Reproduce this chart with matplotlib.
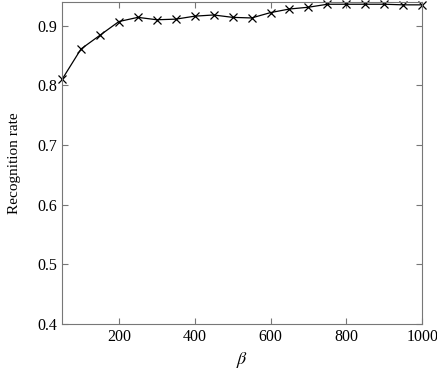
import matplotlib
matplotlib.use("Agg")
import matplotlib.pyplot as plt

beta = [50, 100, 150, 200, 250, 300, 350, 400, 450, 500, 550, 600, 650, 700, 750, 800, 850, 900, 950, 1000]
rate = [0.810, 0.861, 0.884, 0.907, 0.914, 0.910, 0.911, 0.916, 0.918, 0.914, 0.913, 0.922, 0.928, 0.931, 0.936, 0.936, 0.936, 0.936, 0.935, 0.935]
xticks = [200, 400, 600, 800, 1000]
yticks = [0.4, 0.5, 0.6, 0.7, 0.8, 0.9]

plt.rcParams['font.family'] = ['Liberation Serif', 'DejaVu Serif']
plt.rcParams['mathtext.fontset'] = 'stix'

fig = plt.figure(figsize=(4.37, 3.71), dpi=100)
ax = fig.add_axes([0.142, 0.127, 0.824, 0.868])
ax.plot(beta, rate, color='black', linewidth=0.9, marker='x', markersize=5.5, markeredgewidth=0.9, clip_on=False)
ax.set_xlim(50, 1000)
ax.set_ylim(0.4, 0.94)
ax.set_xticks(xticks)
ax.set_yticks(yticks)
ax.set_yticklabels([f"{v:.1f}" for v in yticks])
ax.tick_params(direction='in', top=True, right=True, labelsize=11.5, length=4, color='#777777', width=0.8)
for s in ax.spines.values():
    s.set_color('#777777')
    s.set_linewidth(0.8)
ax.set_xlabel(r'$\beta$', fontsize=13)
ax.set_ylabel('Recognition rate', fontsize=11, labelpad=12)
fig.savefig('out.png', dpi=100)
